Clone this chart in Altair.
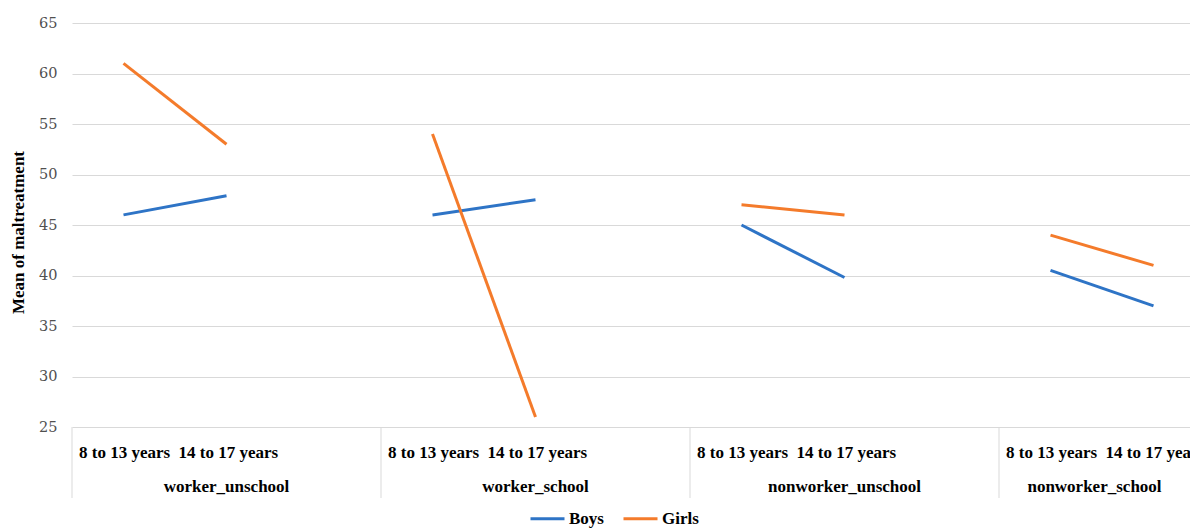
import altair as alt
import pandas as pd

groups = ["worker_unschool", "worker_school", "nonworker_unschool", "nonworker_school"]
ages = ["8 to 13 years", "14 to 17 years"]
series = ["Boys", "Girls"]
boys = [46, 47.9, 46, 47.5, 45, 39.8, 40.5, 37]
girls = [61, 53, 54, 26, 47, 46, 44, 41]
y_ticks = [25, 30, 35, 40, 45, 50, 55, 60, 65]
colors = ["#2E74C6", "#F47B2B"]

W = 1118
H = 404
slot = 103.0
x_max = W / slot

rows = []
for s_name, vals in zip(series, [boys, girls]):
    for gi, g in enumerate(groups):
        for ai, a in enumerate(ages):
            rows.append({"sex": s_name, "group": g, "age": a,
                         "x": gi * 3 + ai + 0.5, "value": vals[gi * 2 + ai]})
df = pd.DataFrame(rows)

bdf = pd.DataFrame({"x": [gi * 3 for gi in range(len(groups))],
                    "age_text": [" \u00a0".join(ages)] * len(groups)})
gdf = pd.DataFrame({"x": [(gi * 3 + min(gi * 3 + 3, x_max)) / 2 for gi in range(len(groups))],
                    "group": groups})

xscale = alt.Scale(domain=[0, x_max], nice=False, zero=False)
yscale = alt.Scale(domain=[25, 65], nice=False, zero=False)

lines = alt.Chart(df).mark_line(strokeWidth=3).encode(
    x=alt.X("x:Q", scale=xscale, axis=None),
    y=alt.Y("value:Q", scale=yscale,
            axis=alt.Axis(values=y_ticks, title="Mean of maltreatment",
                          domain=False, ticks=False, labelPadding=15,
                          labelFont="DejaVu Serif", labelFontSize=14.5,
                          labelColor="#505050",
                          titleFont="Liberation Serif", titleFontSize=17,
                          titleFontWeight="bold", titleColor="#000000",
                          titleX=-54, titleY=209, titleBaseline="middle",
                          grid=True, gridColor="#d9d9d9", gridWidth=1)),
    color=alt.Color("sex:N", scale=alt.Scale(domain=series, range=colors),
                    legend=alt.Legend(title=None, orient="none", direction="horizontal",
                                      legendX=457, legendY=477,
                                      symbolType="stroke", symbolStrokeWidth=3,
                                      symbolSize=1156, labelOffset=3,
                                      columnPadding=13, padding=0,
                                      labelFont="Liberation Serif", labelFontSize=17,
                                      labelFontWeight="bold", labelColor="#000000")),
    detail="group:N",
)

rules = alt.Chart(bdf).mark_rule(color="#d9d9d9", strokeWidth=1).encode(
    x=alt.X("x:Q", scale=xscale, axis=None),
    y=alt.value(H),
    y2=alt.value(H + 71),
)

age_text = alt.Chart(bdf).mark_text(align="left", baseline="middle", dx=7,
                                    font="Liberation Serif", fontSize=17,
                                    fontWeight="bold", color="#000000").encode(
    x=alt.X("x:Q", scale=xscale, axis=None),
    y=alt.value(H + 26),
    text="age_text:N",
)

group_text = alt.Chart(gdf).mark_text(align="center", baseline="middle",
                                      font="Liberation Serif", fontSize=17,
                                      fontWeight="bold", color="#000000").encode(
    x=alt.X("x:Q", scale=xscale, axis=None),
    y=alt.value(H + 60),
    text="group:N",
)

chart = alt.layer(rules, lines, age_text, group_text).properties(
    width=W, height=H,
    autosize=alt.AutoSizeParams(type="none"),
    padding={"left": 64, "top": 15, "right": 0, "bottom": 102},
).configure_view(stroke=None).configure_legend(
    labelFontWeight="bold", labelFont="Liberation Serif", labelFontSize=17
)

chart.save("out.html", embed_options={"renderer": "svg", "actions": False})
